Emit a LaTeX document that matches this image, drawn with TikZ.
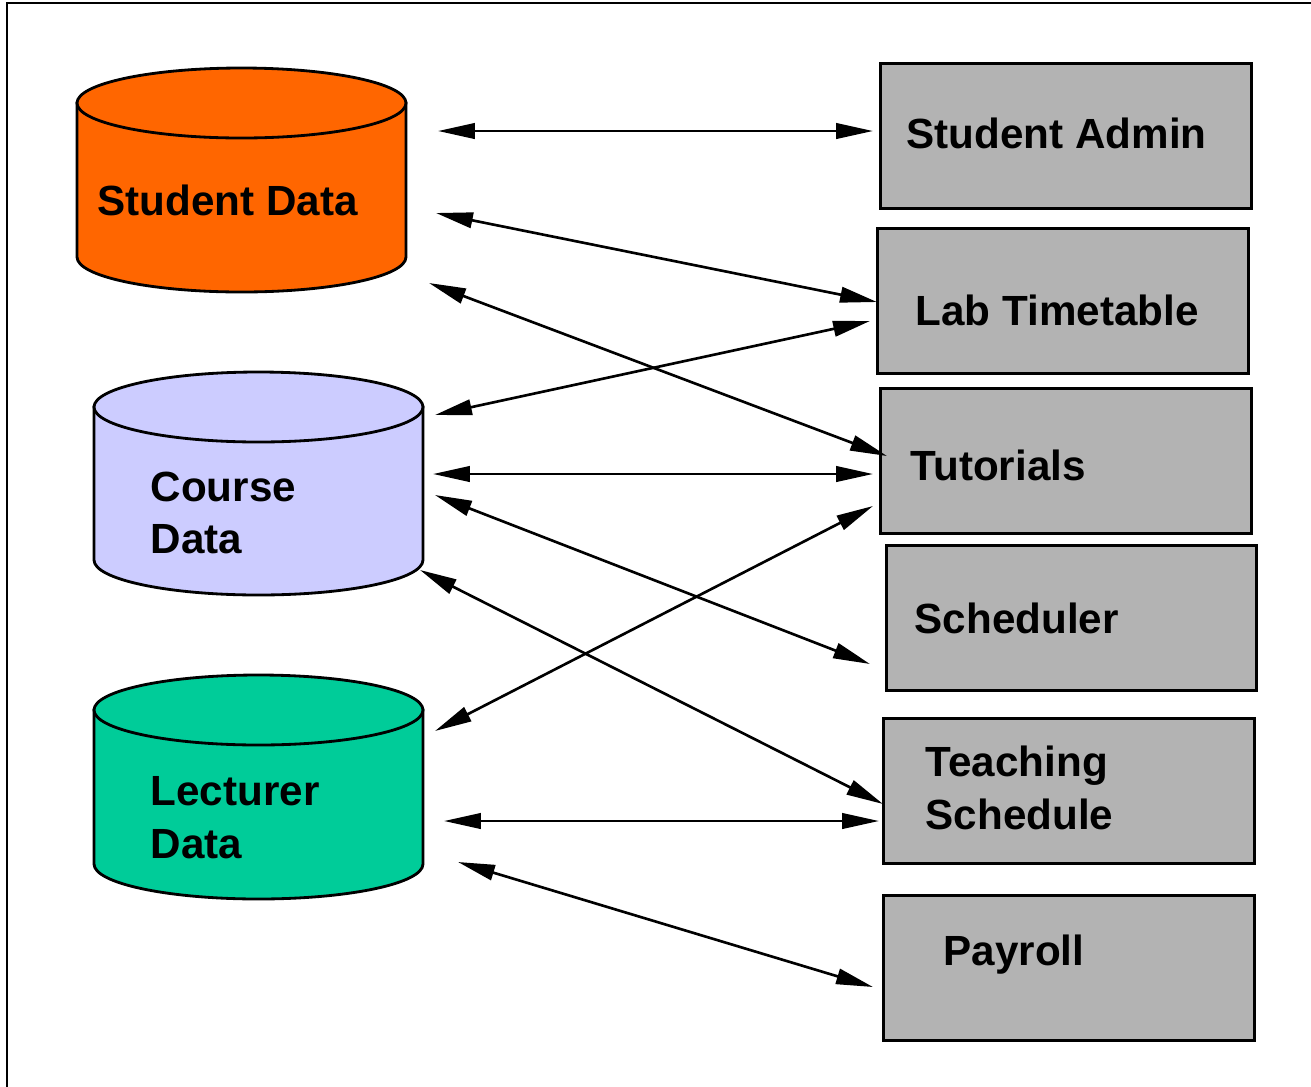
\documentclass[tikz,border=0pt]{standalone}
\usepackage{fontspec}
\setmainfont{Liberation Sans}
\usetikzlibrary{arrows.meta}
\definecolor{studentorange}{HTML}{FF6600}
\definecolor{courseblue}{HTML}{CCCCFF}
\definecolor{lecturergreen}{HTML}{00CC99}
\definecolor{boxgray}{HTML}{B3B3B3}
\tikzset{
  box/.style={draw, fill=boxgray, line width=0.85pt, minimum width=3.7cm, minimum height=1.44cm, inner sep=0pt},
  lbl/.style={font=\bfseries\fontsize{12}{15}\selectfont, inner sep=0pt, align=left},
  drum/.style={draw, line width=0.8pt},
  flow/.style={{Triangle[length=10.5pt,width=4.4pt]}-{Triangle[length=10.5pt,width=4.4pt]}, line width=0.75pt}
}
\begin{document}
\begin{tikzpicture}[x=0.01cm,y=-0.01cm]
\useasboundingbox (0,0) rectangle (1311,1087);
\draw[line width=0.6pt] (7,1087) -- (7,3) -- (1311,3);
% data stores
\foreach \xc/\rx/\yt/\yb/\col in {241.5/164.5/103/257/studentorange, 258.5/164.5/407/560/courseblue, 258.5/164.5/710/864/lecturergreen}
{
\filldraw[drum, fill=\col] (\xc-\rx,\yt) -- (\xc-\rx,\yb) arc[start angle=180, end angle=0, x radius=\rx, y radius=35] -- (\xc+\rx,\yt) -- cycle;
\filldraw[drum, fill=\col] (\xc,\yt) ellipse[x radius=\rx, y radius=35];
}
\node[lbl, anchor=base west] (sdata) at (97,215) {Student Data};
\node[lbl, anchor=north west] (cdata) at (150,471) {Course\\Data};
\node[lbl, anchor=north west] (ldata) at (150,776) {Lecturer\\Data};
% applications
\node[box] (sadmin) at (1066,136) {};
\node[box] (lab) at (1063,301) {};
\node[box] (tut) at (1066,461) {};
\node[box] (sched) at (1071.5,618) {};
\node[box] (teach) at (1069,791) {};
\node[box] (pay) at (1069,968) {};
\node[lbl, anchor=base west] (sadmin-t) at (906,148) {Student Admin};
\node[lbl, anchor=base west] (lab-t) at (915,325) {Lab Timetable};
\node[lbl, anchor=base west] (tut-t) at (910,480) {Tutorials};
\node[lbl, anchor=base west] (sched-t) at (914,633) {Scheduler};
\node[lbl, anchor=north west] (teach-t) at (925,745) {Teaching\\Schedule};
\node[lbl, anchor=base west] (pay-t) at (943,965) {Payroll};
% data flows
\foreach \n/\xa/\ya/\xb/\yb in {1/438/131/873/131, 2/436/213/877/302, 3/429/283/887/456, 4/435/415/870/321, 5/433/474/873/474, 6/435/495/870/664, 7/420/570/883/804, 8/435/731/873/506, 9/444/821/879/821, 10/458/862/873/987}
{
\coordinate (l\n) at (\xa,\ya);
\coordinate (r\n) at (\xb,\yb);
\draw[flow] (l\n) -- (r\n);
}
\end{tikzpicture}
\end{document}
